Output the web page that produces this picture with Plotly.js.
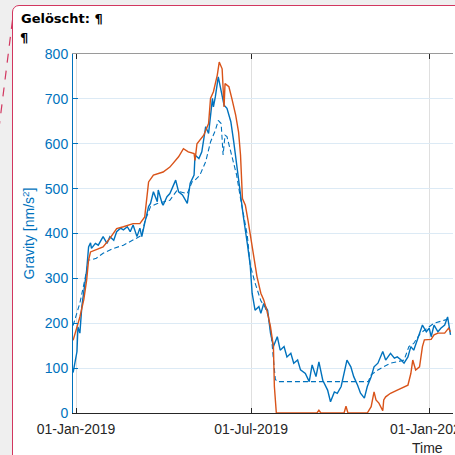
<!DOCTYPE html>
<html>
<head>
<meta charset="utf-8">
<script src="https://cdn.plot.ly/plotly-3.0.1.min.js"></script>
<style>
  html, body { margin:0; padding:0; width:455px; height:455px; overflow:hidden; background:#efefef; }
  #frame { position:absolute; left:12px; top:5px; width:460px; height:470px; background:#ffffff;
           border:1.5px solid #d2365f; border-top-left-radius:7px; box-sizing:border-box; }
  #dash { position:absolute; left:0; top:0; }
  .word { position:absolute; font-family:"DejaVu Sans", Verdana, sans-serif; font-weight:bold; font-size:13px; color:#000; }
  #plot { position:absolute; left:0; top:0; width:455px; height:455px; }
</style>
</head>
<body>
<div id="frame"></div>
<svg id="dash" width="20" height="140"><line x1="12.5" y1="20" x2="-1" y2="128" stroke="#d2365f" stroke-width="1.2" stroke-dasharray="9,8"/></svg>
<div class="word" style="left:21px; top:11px;">Gelöscht: ¶</div>
<div class="word" style="left:20px; top:30px;">¶</div>
<div id="plot"></div>
<script>
// ---- data ----
const gravityDates = [
 '2018-12-29','2019-01-02','2019-01-03','2019-01-05','2019-01-07','2019-01-10','2019-01-12','2019-01-14','2019-01-16','2019-01-17',
 '2019-01-21','2019-01-24','2019-01-29','2019-02-02','2019-02-05','2019-02-09','2019-02-12','2019-02-16','2019-02-19','2019-02-23',
 '2019-02-26','2019-03-01','2019-03-05','2019-03-08','2019-03-10','2019-03-13','2019-03-17','2019-03-19','2019-03-22','2019-03-26',
 '2019-03-27','2019-03-31','2019-04-01','2019-04-05','2019-04-08','2019-04-14','2019-04-17','2019-04-21','2019-04-26','2019-04-29',
 '2019-05-03','2019-05-04','2019-05-08','2019-05-11','2019-05-15','2019-05-18','2019-05-22','2019-05-23','2019-05-25','2019-05-28',
 '2019-05-30','2019-06-03','2019-06-06','2019-06-10','2019-06-13','2019-06-16','2019-06-20','2019-06-23','2019-06-27','2019-06-30',
 '2019-07-02','2019-07-05','2019-07-09','2019-07-11','2019-07-14','2019-07-18','2019-07-21','2019-07-24','2019-07-28','2019-07-31',
 '2019-08-04','2019-08-07','2019-08-11','2019-08-14','2019-08-18','2019-08-21','2019-08-26','2019-08-30','2019-09-02','2019-09-06',
 '2019-09-09','2019-09-13','2019-09-18','2019-09-21','2019-09-25','2019-09-28','2019-10-02','2019-10-05','2019-10-08','2019-10-12',
 '2019-10-15','2019-10-19','2019-10-22','2019-10-26','2019-10-29','2019-11-02','2019-11-05','2019-11-09','2019-11-12','2019-11-14',
 '2019-11-17','2019-11-22','2019-11-26','2019-11-29','2019-12-03','2019-12-06','2019-12-10','2019-12-13','2019-12-16','2019-12-20',
 '2019-12-25','2019-12-29','2020-01-01','2020-01-03','2020-01-06','2020-01-10','2020-01-13','2020-01-17','2020-01-20','2020-01-23'
];
const gravityObserved = [
 90,137,192,178,237,289,318,370,379,367,
 378,374,393,378,393,385,404,412,408,415,
 404,419,393,412,393,423,460,467,493,471,
 497,467,463,482,489,519,493,486,467,512,
 530,575,567,582,638,623,701,682,705,749,
 730,686,679,649,604,552,486,437,378,330,
 267,229,237,222,244,229,178,148,170,140,
 148,125,133,111,118,96,88,70,107,81,
 114,73,51,25,47,44,59,88,118,103,
 81,62,44,33,59,81,103,111,125,137,
 118,133,122,125,118,111,125,148,140,163,
 196,181,189,170,196,181,189,196,214,174
];

const smoothDates = [
 '2018-12-29','2019-01-05','2019-01-10','2019-01-14','2019-01-16','2019-01-22','2019-01-29','2019-02-09','2019-02-19','2019-03-01',
 '2019-03-10','2019-03-13','2019-03-19','2019-03-26','2019-04-08','2019-04-15','2019-04-26','2019-05-01','2019-05-04','2019-05-09',
 '2019-05-15','2019-05-20','2019-05-25','2019-05-28','2019-05-31','2019-06-02','2019-06-04','2019-06-06','2019-06-10','2019-06-13',
 '2019-06-16','2019-06-20','2019-06-23','2019-06-27','2019-06-30','2019-07-05','2019-07-11','2019-07-15','2019-07-19','2019-07-22',
 '2019-07-24','2019-07-26','2019-07-28','2019-10-30','2019-11-02','2019-11-09','2019-11-15','2019-11-22','2019-11-29','2019-12-06',
 '2019-12-11','2019-12-16','2019-12-23','2019-12-30','2020-01-06','2020-01-17','2020-01-23'
];
const gravitySmoothed = [
 195,245,296,341,341,345,356,367,374,385,
 396,426,460,467,474,495,489,515,519,530,
 560,604,630,652,645,575,619,616,582,560,
 530,478,441,396,330,290,250,237,215,170,
 120,75,70,70,85,96,103,111,114,118,
 148,155,178,189,200,207,211
];

const modelDates = [
 '2018-12-29','2019-01-02','2019-01-05','2019-01-09','2019-01-12','2019-01-14','2019-01-16','2019-01-22','2019-01-29','2019-02-05',
 '2019-02-12','2019-02-19','2019-03-01','2019-03-08','2019-03-13','2019-03-17','2019-03-22','2019-04-01','2019-04-08','2019-04-17',
 '2019-04-22','2019-04-27','2019-05-03','2019-05-04','2019-05-06','2019-05-13','2019-05-18','2019-05-20','2019-05-23','2019-05-27',
 '2019-05-29','2019-06-01','2019-06-03','2019-06-04','2019-06-08','2019-06-11','2019-06-15','2019-06-18','2019-06-20','2019-06-22',
 '2019-06-25','2019-06-28','2019-06-30','2019-07-04','2019-07-07','2019-07-11','2019-07-14','2019-07-18','2019-07-21','2019-07-24',
 '2019-07-25','2019-07-27','2019-09-07','2019-09-09','2019-09-11','2019-10-05','2019-10-07','2019-10-09','2019-10-29','2019-11-02',
 '2019-11-05','2019-11-07','2019-11-10','2019-11-14','2019-11-15','2019-11-17','2019-11-22','2019-11-29','2019-12-06','2019-12-10',
 '2019-12-13','2019-12-15','2019-12-18','2019-12-22','2019-12-25','2019-12-27','2020-01-03','2020-01-06','2020-01-10','2020-01-17',
 '2020-01-21','2020-01-23'
];
const gravityModel = [
 162,192,214,252,296,341,359,364,370,389,
 411,415,422,422,437,515,530,537,548,571,
 589,582,578,563,600,619,645,701,716,753,
 782,767,682,734,727,701,664,626,575,478,
 463,426,400,348,304,267,252,222,192,148,
 59,0,0,6,0,0,15,0,0,14,
 47,29,22,5,29,36,44,51,59,62,
 88,118,96,103,148,163,164,174,178,178,
 189,181
];

const xTickVals = ['2019-01-01','2019-07-01','2020-01-01'];
const xTickText = ['01-Jan-2019','01-Jul-2019','01-Jan-2020'];
const yTickVals = [0,100,200,300,400,500,600,700,800];

const blue = '#0072BD', orange = '#D95319', axisDark = '#262626';
const font = 'Liberation Sans, Arial, Helvetica, sans-serif';

const traces = [
  {x: gravityDates, y: gravityObserved, type:'scatter', mode:'lines',
   line:{color:blue, width:1.4}, xaxis:'x', yaxis:'y'},
  {x: smoothDates, y: gravitySmoothed, type:'scatter', mode:'lines',
   line:{color:blue, width:1.1, dash:'5px,3px'}, xaxis:'x', yaxis:'y'},
  {x: modelDates, y: gravityModel, type:'scatter', mode:'lines',
   line:{color:orange, width:1.4}, xaxis:'x2', yaxis:'y'}
];

const xRange = ['2018-12-28 21:20','2020-01-25 14:00'];
const layout = {
  width:455, height:455,
  margin:{l:73, r:2, t:54, b:42},
  paper_bgcolor:'rgba(0,0,0,0)', plot_bgcolor:'#ffffff',
  showlegend:false,
  font:{family:font, size:14, color:axisDark},
  xaxis:{type:'date', range:xRange, tickmode:'array', tickvals:xTickVals, ticktext:xTickText,
         ticks:'inside', ticklen:5, tickwidth:1, tickcolor:axisDark, ticklabeloverflow:'allow',
         ticklabelstandoff:3,
         showline:true, linecolor:axisDark, linewidth:1,
         showgrid:true, gridcolor:'#dfdfdf', gridwidth:1, zeroline:false,
         tickfont:{family:font, size:14, color:axisDark}},
  xaxis2:{type:'date', matches:'x', overlaying:'x', side:'top', anchor:'y',
          tickmode:'array', tickvals:xTickVals, ticks:'inside', ticklen:5, tickcolor:axisDark,
          showticklabels:false, showline:true, linecolor:'#9a9a9a', linewidth:1,
          showgrid:false, zeroline:false},
  yaxis:{range:[0,800], tickmode:'array', tickvals:yTickVals,
         ticks:'inside', ticklen:5, tickwidth:1, tickcolor:blue,
         showline:true, linecolor:blue, linewidth:1,
         showgrid:true, gridcolor:'#dceaf5', gridwidth:1, zeroline:false,
         tickfont:{family:font, size:14, color:blue}, ticklabelstandoff:1,
         title:{text:'Gravity [nm/s<sup>2</sup>]', font:{family:font, size:14, color:blue}, standoff:6}},
  annotations:[
    {text:'Time', xref:'paper', yref:'paper', x:(427-73)/380, y:-35/359,
     xanchor:'center', yanchor:'middle', showarrow:false,
     font:{family:font, size:14, color:axisDark}}
  ]
};

Plotly.newPlot('plot', traces, layout, {staticPlot:true, displayModeBar:false});
</script>
</body>
</html>
